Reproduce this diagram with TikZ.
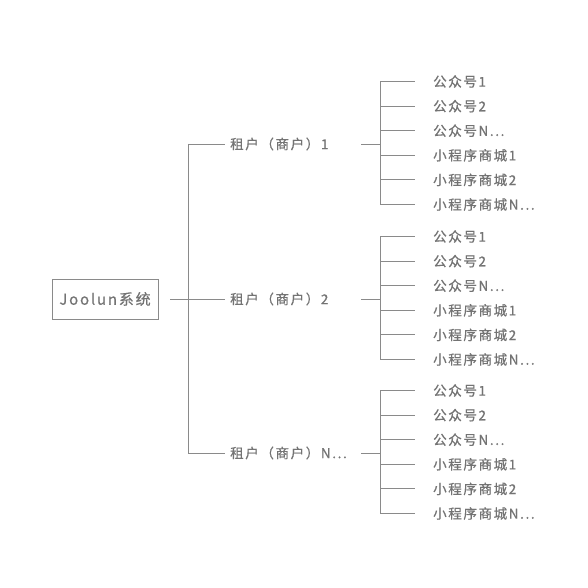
\documentclass[tikz,border=0pt]{standalone}
\usepackage{fontspec}
\setmainfont{Noto Sans CJK SC}[LetterSpace=12,FakeBold=0.6]
\newcommand\mydots{...}
\begin{document}
\begin{tikzpicture}[x=1pt,y=-1pt,
  conn/.style={draw=linegray,line width=0.9pt},
  txt/.style={text=textgray,font=\fontsize{13.5}{16}\selectfont,inner sep=0pt,anchor=west},
  rootbox/.style={draw=linegray,line width=0.9pt,text=textgray,font=\fontsize{15}{18}\selectfont,minimum width=106pt,minimum height=40pt,inner sep=0pt}]
\definecolor{linegray}{HTML}{8A8A8A}
\definecolor{textgray}{HTML}{737373}
\useasboundingbox[fill=white] (0,0) rectangle (588,588);
\node[rootbox] (root) at (105,299) {Joolun系统};
\coordinate (bt) at (188,144);
\coordinate (bb) at (188,453);
\draw[conn] (bt) -- (bb);
\coordinate (rs) at (170,299);
\coordinate (re) at (225,299);
\draw[conn] (rs) -- (re);
\foreach \i/\y/\lab in {1/144/租户（商户）1, 2/299/租户（商户）2, 3/453/租户（商户）N\mydots}{
  \coordinate (tl\i) at (188,\y);
  \coordinate (tr\i) at (225,\y);
  \draw[conn] (tl\i) -- (tr\i);
  \node[txt] (t\i) at (230,\y) {\lab};
  \coordinate (ts\i) at (361,\y);
  \coordinate (tb\i) at (380,\y);
  \draw[conn] (ts\i) -- (tb\i);
  \pgfmathsetmacro{\ytop}{\y-62.5}
  \pgfmathsetmacro{\ybot}{\y+60.5}
  \coordinate (lt\i) at (380,\ytop);
  \coordinate (lb\i) at (380,\ybot);
  \draw[conn] (lt\i) -- (lb\i);
  \foreach \j/\leaf in {0/公众号1,1/公众号2,2/公众号N\mydots,3/小程序商城1,4/小程序商城2,5/小程序商城N\mydots}{
    \pgfmathsetmacro{\ly}{\y-62.5+24.6*\j}
    \coordinate (la\i\j) at (380,\ly);
    \coordinate (lz\i\j) at (415,\ly);
    \draw[conn] (la\i\j) -- (lz\i\j);
    \node[txt] (l\i\j) at (433,\ly) {\leaf};
  }
}
\end{tikzpicture}
\end{document}
